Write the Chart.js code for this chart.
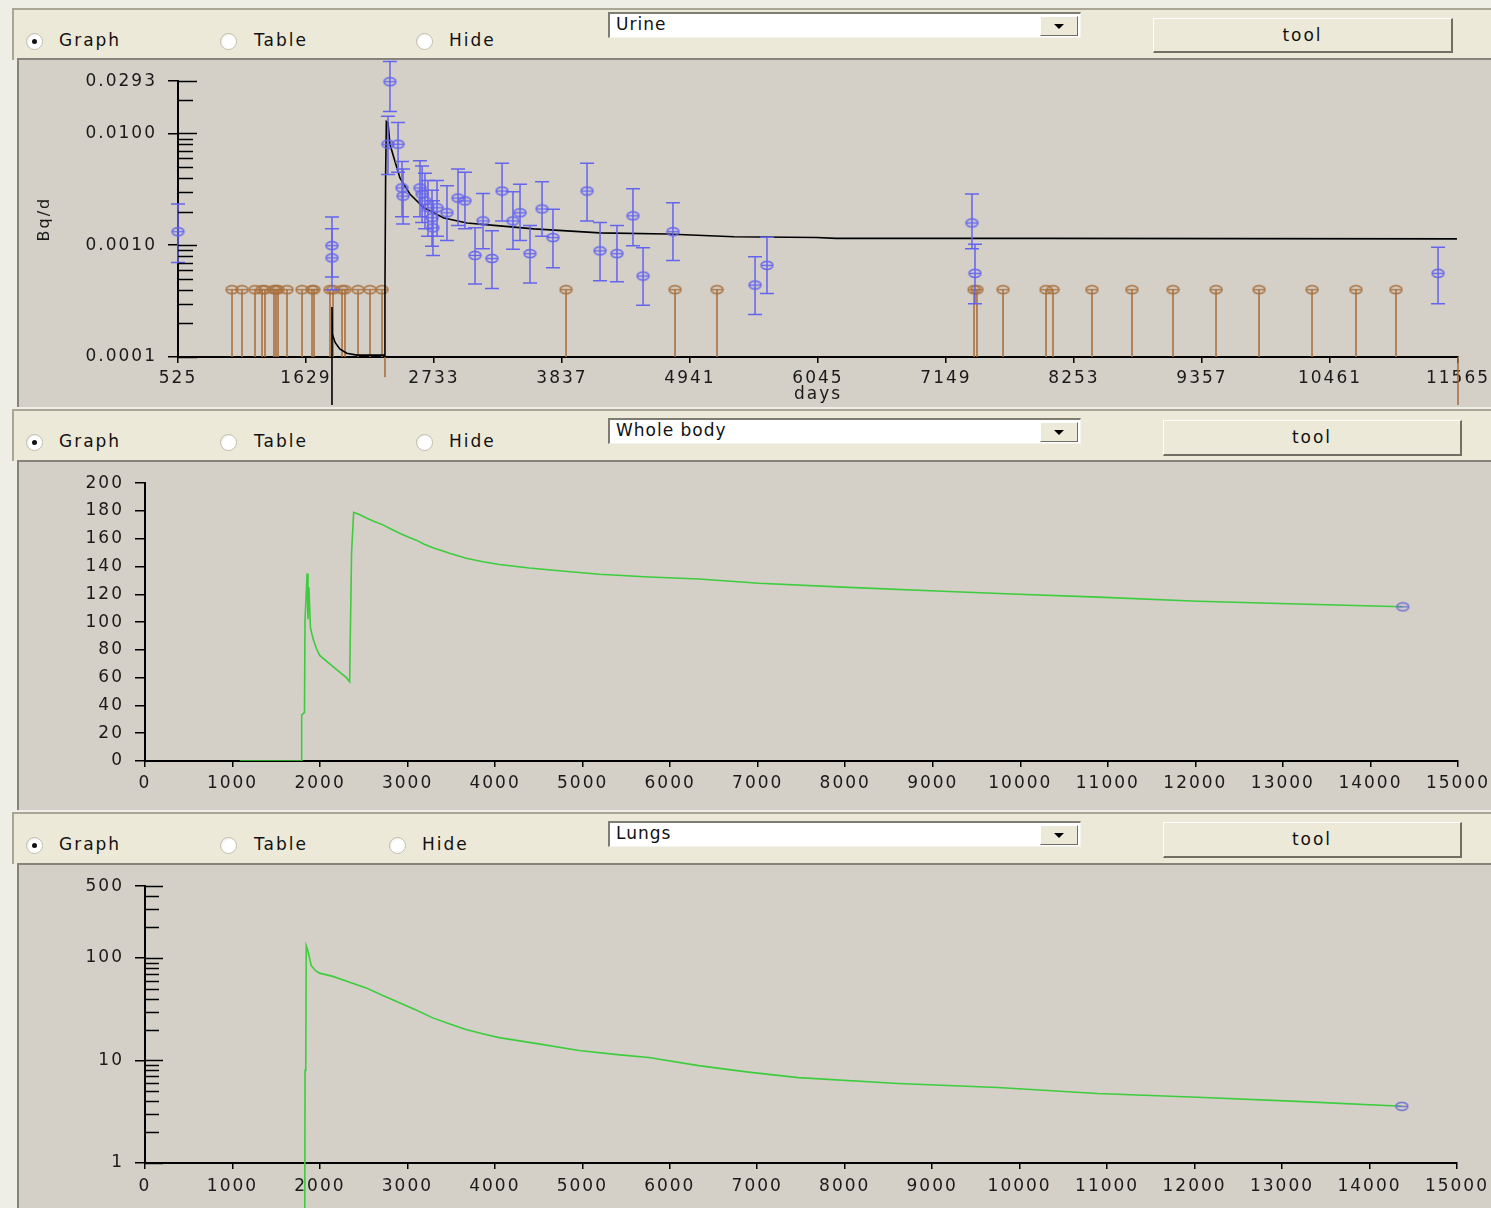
<!DOCTYPE html>
<html>
<head>
<meta charset="utf-8">
<script src="https://cdn.jsdelivr.net/npm/chart.js@4.4.1/dist/chart.umd.min.js"></script>
<style>
  body { margin: 0; width: 1491px; height: 1208px; overflow: hidden; position: relative;
         background: #eeede6; font-family: "DejaVu Sans", sans-serif; }
  .head { position: absolute; left: 12px; width: 1479px; height: 50px; background: #ece9d8;
          border-top: 2px solid #a9a698; border-left: 2px solid #a9a698; }
  .box { position: absolute; left: 17px; width: 1474px; background: #d4d0c8;
         border-top: 2px solid #86837a; border-left: 2px solid #86837a; }
  .box canvas { position: absolute; left: -1px; top: 0px; }
  .radio { position: absolute; top: 23px; width: 15px; height: 15px; border-radius: 50%;
           border: 1px solid #c2bfb1; background: radial-gradient(circle at 60% 60%, #fff 55%, #d8d5c8); }
  .radio.on::after { content: ""; position: absolute; left: 5px; top: 5px; width: 5px; height: 5px;
                     border-radius: 50%; background: #111; }
  .lbl { position: absolute; top: 20px; font-size: 17px; letter-spacing: 2px; color: #111; }
  .combo { position: absolute; left: 594px; width: 470px; height: 23px; background: #fff;
           border-top: 2px solid #7f7c72; border-left: 2px solid #7f7c72;
           border-right: 1px solid #f4f3ee; border-bottom: 1px solid #f4f3ee; }
  .combo span { position: absolute; left: 6px; top: 0px; font-size: 17px; letter-spacing: 1px; color: #111; }
  .combo b { position: absolute; right: 2px; top: 2px; width: 36px; height: 18px; background: #ece9d8;
             border-top: 1px solid #fff; border-left: 1px solid #fff;
             border-right: 1px solid #716f64; border-bottom: 1px solid #716f64; }
  .combo b::after { content: ""; position: absolute; left: 13px; top: 7px; border-left: 5px solid transparent;
                    border-right: 5px solid transparent; border-top: 5px solid #000; }
  .tool { position: absolute; background: #ece9d8; font-size: 17px; letter-spacing: 2px; color: #111;
          text-align: center; box-sizing: border-box;
          border-top: 1px solid #fff; border-left: 1px solid #fff;
          border-right: 2px solid #716f64; border-bottom: 2px solid #716f64; }
</style>
</head>
<body>

<div class="head" style="top:8px">
  <span class="radio on" style="left:12px"></span><span class="lbl" style="left:45px">Graph</span>
  <span class="radio" style="left:206px"></span><span class="lbl" style="left:240px">Table</span>
  <span class="radio" style="left:402px"></span><span class="lbl" style="left:435px">Hide</span>
  <div class="combo" style="top:2px"><span>Urine</span><b></b></div>
  <div class="tool" style="left:1139px;top:8px;width:300px;height:35px;line-height:32px">tool</div>
</div>
<div class="box" style="top:58px;height:347px"><canvas id="urine" width="1473" height="345"></canvas></div>

<div class="head" style="top:409px">
  <span class="radio on" style="left:12px"></span><span class="lbl" style="left:45px">Graph</span>
  <span class="radio" style="left:206px"></span><span class="lbl" style="left:240px">Table</span>
  <span class="radio" style="left:402px"></span><span class="lbl" style="left:435px">Hide</span>
  <div class="combo" style="top:7px"><span>Whole body</span><b></b></div>
  <div class="tool" style="left:1149px;top:9px;width:299px;height:36px;line-height:33px">tool</div>
</div>
<div class="box" style="top:460px;height:348px"><canvas id="body" width="1473" height="346"></canvas></div>

<div class="head" style="top:812px">
  <span class="radio on" style="left:12px"></span><span class="lbl" style="left:45px">Graph</span>
  <span class="radio" style="left:206px"></span><span class="lbl" style="left:240px">Table</span>
  <span class="radio" style="left:375px"></span><span class="lbl" style="left:408px">Hide</span>
  <div class="combo" style="top:7px"><span>Lungs</span><b></b></div>
  <div class="tool" style="left:1149px;top:8px;width:299px;height:36px;line-height:33px">tool</div>
</div>
<div class="box" style="top:863px;height:345px"><canvas id="lungs" width="1473" height="343"></canvas></div>

<script>
// ---- Urine panel (Bq/d) ----
const urineTicksX = [525, 1629, 2733, 3837, 4941, 6045, 7149, 8253, 9357, 10461, 11565];
const urineTicksY = [0.0001, 0.0002, 0.0003, 0.0004, 0.0005, 0.0006, 0.0007, 0.0008, 0.0009,
                     0.001, 0.002, 0.003, 0.004, 0.005, 0.006, 0.007, 0.008, 0.009, 0.01, 0.02, 0.0293];
const urineLabelsY = [0.0001, 0.001, 0.01, 0.0293];

const urineDays   = [525, 1853, 1853, 2336, 2353, 2423, 2457, 2466, 2612, 2630, 2655, 2681, 2716, 2724, 2759, 2845,
                     2940, 3000, 3087, 3156, 3233, 3320, 3414, 3475, 3561, 3665, 3759, 4053, 4165, 4311, 4449, 4536,
                     4794, 5502, 5605, 7373, 7399, 11393];
const urineValues = [0.00132, 0.00099, 0.00077, 0.0080, 0.0290, 0.0080, 0.00325, 0.00275, 0.00325, 0.00287, 0.00249,
                     0.00216, 0.00176, 0.00143, 0.00216, 0.00195, 0.00264, 0.00249, 0.00081, 0.00165, 0.00076, 0.00305,
                     0.00165, 0.00195, 0.00084, 0.00211, 0.00117, 0.00305, 0.00089, 0.00084, 0.00183, 0.00053, 0.00132,
                     0.00044, 0.00066, 0.00158, 0.00056, 0.00056];
const urineLow    = [0.00070, 0.00052, 0.00040, 0.0043, 0.0157, 0.0045, 0.0018, 0.00155, 0.0018, 0.0016, 0.0014,
                     0.0012, 0.00098, 0.00081, 0.0012, 0.0011, 0.0015, 0.0014, 0.00045, 0.00093, 0.00041, 0.00165,
                     0.00092, 0.0011, 0.00046, 0.0012, 0.00063, 0.00165, 0.00048, 0.00047, 0.00099, 0.00029, 0.00073,
                     0.00024, 0.00037, 0.00093, 0.00030, 0.00030];
const urineHigh   = [0.00234, 0.00179, 0.00140, 0.0142, 0.0440, 0.0125, 0.0056, 0.0048, 0.0057, 0.0051, 0.0044,
                     0.0038, 0.0031, 0.0025, 0.0038, 0.0034, 0.0048, 0.0045, 0.00143, 0.0029, 0.00135, 0.0054,
                     0.0030, 0.0035, 0.0015, 0.0037, 0.0021, 0.0054, 0.0016, 0.0015, 0.0032, 0.00095, 0.0024,
                     0.00079, 0.00118, 0.00287, 0.00102, 0.00096];

// results below detection limit, drawn as stems
const belowDays   = [991, 1077, 1189, 1250, 1275, 1353, 1370, 1388, 1465, 1595, 1681, 1698, 1836, 1862, 1940, 1965,
                     2078, 2181, 2285, 2310, 3872, 4812, 5174, 7391, 7416, 7641, 8012, 8072, 8408, 8753, 9107, 9478,
                     9849, 10306, 10685, 11030, 11565];
const belowValues = [0.0004, 0.0004, 0.0004, 0.0004, 0.0004, 0.0004, 0.0004, 0.0004, 0.0004, 0.0004, 0.0004, 0.0004,
                     0.0004, 0.0004, 0.0004, 0.0004, 0.0004, 0.0004, 0.0004, 0.000066, 0.0004, 0.0004, 0.0004, 0.0004,
                     0.0004, 0.0004, 0.0004, 0.0004, 0.0004, 0.0004, 0.0004, 0.0004, 0.0004, 0.0004, 0.0004, 0.0004,
                     0.00003];

const modelDays   = [1853, 1853, 1856, 1880, 1920, 1980, 2069, 2310, 2310, 2316, 2322, 2336, 2353, 2396, 2440, 2525,
                     2646, 2818, 3017, 3301, 3594, 4163, 4741, 5319, 6035, 6200, 8000, 11556];
const modelValues = [0.00003, 0.00028, 0.00016, 0.000135, 0.000118, 0.000108, 0.000104, 0.000104, 0.0004, 0.0045,
                     0.0128, 0.0125, 0.0080, 0.00564, 0.00398, 0.00287, 0.00216, 0.00175, 0.00158, 0.00149, 0.00140,
                     0.00129, 0.00126, 0.00119, 0.00117, 0.00115, 0.00115, 0.00114];

// ---- Whole body panel ----
const bodyDays   = [1084, 1787, 1790, 1822, 1828, 1852, 1862, 1872, 1890, 1920, 1958, 1996, 2148, 2300, 2338, 2345,
                    2360, 2384, 2450, 2529, 2620, 2718, 2810, 2909, 3000, 3099, 3190, 3290, 3480, 3669, 3860, 4049,
                    4390, 4730, 5190, 5760, 6330, 7015, 8040, 9180, 9980, 10890, 12030, 13170, 14370];
const bodyValues = [0, 0, 33, 35, 101, 135, 102, 125, 96, 88, 81, 76, 68, 60, 57, 88,
                    150, 179, 177.5, 175, 172.5, 170, 167, 164, 161.5, 159, 156, 153.5, 149.5, 146, 143.5, 141.5,
                    139, 137, 134.5, 132.5, 131, 128, 125, 122, 120, 118, 115, 113, 111];

// ---- Lungs panel ----
const lungTicksY  = [1, 2, 3, 4, 5, 6, 7, 8, 9, 10, 20, 30, 40, 50, 60, 70, 80, 90, 100, 200, 300, 400, 500];
const lungLabelsY = [1, 10, 100, 500];
const lungDays   = [1825, 1830, 1838, 1844, 1863, 1901, 1950, 1996, 2148, 2340, 2529, 2719, 2909, 3099, 3290,
                    3479, 3669, 3859, 4049, 4500, 4962, 5400, 5760, 6330, 6900, 7470, 8610, 9750, 10890, 12030,
                    13170, 14370];
const lungValues = [0.05, 8, 9, 131, 117, 84, 75, 71, 66, 58, 51, 43, 36.5, 31, 26,
                    22.8, 20, 18.2, 16.7, 14.5, 12.5, 11.4, 10.7, 8.9, 7.7, 6.8, 5.95, 5.45, 4.76, 4.37,
                    3.99, 3.57];

const FONT = { family: 'DejaVu Sans', size: 17 };
const BLUE = '#6464ee';
const BROWN = 'rgba(168,108,58,0.85)';
const GREEN = '#3ccc3c';

// ellipse marker with a bar through it
function marker(color) {
    const c = document.createElement('canvas');
    c.width = 15; c.height = 11;
    const g = c.getContext('2d');
    g.strokeStyle = color;
    g.lineWidth = 1.4;
    g.beginPath(); g.ellipse(7.5, 5.5, 6, 4, 0, 0, Math.PI * 2); g.stroke();
    g.beginPath(); g.moveTo(1.5, 5.5); g.lineTo(13.5, 5.5); g.stroke();
    return c;
}

// wide letter spacing of the old UI, only while painting
const spacing = {
    id: 'spacing',
    beforeDraw(chart) { chart.ctx.letterSpacing = '2px'; }
};

// short tick stubs on the inner side of the log y axis
const innerTicks = {
    id: 'innerTicks',
    afterDraw(chart, args, opts) {
        if (!opts.major) return;
        const y = chart.scales.y, ctx = chart.ctx;
        ctx.save();
        ctx.strokeStyle = '#000';
        ctx.lineWidth = 1.5;
        y.ticks.forEach(t => {
            const py = Math.round(y.getPixelForValue(t.value)) + 0.5;
            const len = opts.major.includes(t.value) ? opts.majorLen : opts.len;
            ctx.beginPath(); ctx.moveTo(y.right, py); ctx.lineTo(y.right + len, py); ctx.stroke();
        });
        ctx.restore();
    }
};

const stems = {
    id: 'stems',
    beforeDatasetDraw(chart, args) {
        const ds = chart.data.datasets[args.index];
        if (!ds.stem) return;
        const y = chart.scales.y, ctx = chart.ctx;
        const base = y.getPixelForValue(y.min);
        ctx.save();
        ctx.strokeStyle = ds.borderColor;
        ctx.lineWidth = 1.8;
        args.meta.data.forEach(pt => {
            ctx.beginPath(); ctx.moveTo(pt.x, base); ctx.lineTo(pt.x, pt.y); ctx.stroke();
        });
        ctx.restore();
    }
};

const errorBars = {
    id: 'errorBars',
    afterDatasetDraw(chart, args) {
        const ds = chart.data.datasets[args.index];
        if (!ds.errLow) return;
        const y = chart.scales.y, ctx = chart.ctx;
        ctx.save();
        ctx.strokeStyle = ds.borderColor;
        ctx.lineWidth = 1.5;
        args.meta.data.forEach((pt, i) => {
            const top = y.getPixelForValue(ds.errHigh[i]);
            const bot = y.getPixelForValue(ds.errLow[i]);
            ctx.beginPath();
            ctx.moveTo(pt.x, top); ctx.lineTo(pt.x, bot);
            ctx.moveTo(pt.x - 7, top); ctx.lineTo(pt.x + 7, top);
            ctx.moveTo(pt.x - 7, bot); ctx.lineTo(pt.x + 7, bot);
            ctx.stroke();
        });
        ctx.restore();
    }
};

function xy(xs, ys) { return xs.map((x, i) => ({ x: x, y: ys[i] })); }

function xAxis(min, max, height, pad, extra) {
    return Object.assign({
        type: 'linear', min: min, max: max,
        afterFit: s => { s.height = height; },
        grid: { drawOnChartArea: false, drawTicks: true, tickLength: 6, color: '#000', lineWidth: 1.5 },
        border: { display: true, color: '#000', width: 2 },
        ticks: { color: '#1a1a1a', font: FONT, padding: pad, autoSkip: false, maxRotation: 0,
                 callback: v => String(v) }
    }, extra || {});
}

function logYAxis(min, max, width, ticks, labels, digits) {
    return {
        type: 'logarithmic', min: min, max: max,
        afterFit: s => { s.width = width; },
        afterBuildTicks: s => { s.ticks = ticks.map(v => ({ value: v })); },
        grid: { drawOnChartArea: false, drawTicks: true, tickLength: 10, lineWidth: 1.5,
                color: c => (c.tick && labels.includes(c.tick.value)) ? '#000' : 'rgba(0,0,0,0)' },
        border: { display: true, color: '#000', width: 2 },
        ticks: { color: '#1a1a1a', font: FONT, padding: 11, autoSkip: false,
                 callback: v => labels.includes(v) ? v.toFixed(digits) : '' }
    };
}

const common = {
    responsive: false,
    animation: false,
    events: [],
    plugins: { legend: { display: false }, tooltip: { enabled: false } }
};

// Urine
new Chart(document.getElementById('urine'), {
    data: {
        datasets: [
            {
                type: 'scatter', data: xy(urineDays, urineValues), borderColor: BLUE,
                pointStyle: marker(BLUE), pointRadius: 6, errLow: urineLow, errHigh: urineHigh, clip: false
            },
            {
                type: 'line', data: xy(modelDays, modelValues), borderColor: '#000', borderWidth: 1.6,
                pointRadius: 0, tension: 0, clip: false
            },
            {
                type: 'scatter', data: xy(belowDays, belowValues), borderColor: BROWN,
                pointStyle: marker('#a8703e'), pointRadius: 6, stem: true, clip: false
            }
        ]
    },
    options: Object.assign({}, common, {
        layout: { padding: { top: 20, right: 33, left: 0, bottom: 0 } },
        scales: {
            x: xAxis(525, 11565, 48, 5, {
                afterBuildTicks: s => { s.ticks = urineTicksX.map(v => ({ value: v })); },
                title: { display: true, text: 'days', color: '#1a1a1a', font: FONT, padding: { top: 0, bottom: 0 } }
            }),
            y: Object.assign(logYAxis(0.0001, 0.0293, 160, urineTicksY, urineLabelsY, 4), {
                title: { display: true, text: 'Bq/d', color: '#1a1a1a', font: { family: 'DejaVu Sans', size: 16 },
                         padding: { top: 17, bottom: 0 } }
            })
        },
        plugins: Object.assign({}, common.plugins, {
            innerTicks: { major: urineLabelsY, majorLen: 19, len: 15 }
        })
    }),
    plugins: [spacing, innerTicks, stems, errorBars]
});

// Whole body
new Chart(document.getElementById('body'), {
    data: {
        datasets: [
            {
                type: 'scatter', data: xy([bodyDays[bodyDays.length - 1]], [bodyValues[bodyValues.length - 1]]),
                borderColor: '#7070d0', pointStyle: marker('#7070d0'), pointRadius: 6
            },
            {
                type: 'line', data: xy(bodyDays, bodyValues), borderColor: GREEN, borderWidth: 1.6,
                pointRadius: 0, tension: 0
            }
        ]
    },
    options: Object.assign({}, common, {
        layout: { padding: { top: 21, right: 31, left: 0, bottom: 0 } },
        scales: {
            x: xAxis(0, 15000, 47, 6, { ticks: Object.assign(xAxis(0, 1, 0, 6).ticks, { stepSize: 1000 }) }),
            y: {
                type: 'linear', min: 0, max: 200,
                afterFit: s => { s.width = 127; },
                grid: { drawOnChartArea: false, drawTicks: true, tickLength: 10, color: '#000', lineWidth: 1.5 },
                border: { display: true, color: '#000', width: 2 },
                ticks: { color: '#1a1a1a', font: FONT, padding: 11, stepSize: 20, autoSkip: false }
            }
        }
    }),
    plugins: [spacing]
});

// Lungs
new Chart(document.getElementById('lungs'), {
    data: {
        datasets: [
            {
                type: 'scatter', data: xy([lungDays[lungDays.length - 1]], [lungValues[lungValues.length - 1]]),
                borderColor: '#7070d0', pointStyle: marker('#7070d0'), pointRadius: 6
            },
            {
                type: 'line', data: xy(lungDays, lungValues), borderColor: GREEN, borderWidth: 1.6,
                pointRadius: 0, tension: 0, clip: false
            }
        ]
    },
    options: Object.assign({}, common, {
        layout: { padding: { top: 20, right: 31, left: 0, bottom: 0 } },
        scales: {
            x: xAxis(0, 15000, 45, 7, { ticks: Object.assign(xAxis(0, 1, 0, 7).ticks, { stepSize: 1000 }) }),
            y: logYAxis(1, 500, 127, lungTicksY, lungLabelsY, 0)
        },
        plugins: Object.assign({}, common.plugins, {
            innerTicks: { major: lungLabelsY, majorLen: 18, len: 14 }
        })
    }),
    plugins: [spacing, innerTicks]
});
</script>
</body>
</html>
